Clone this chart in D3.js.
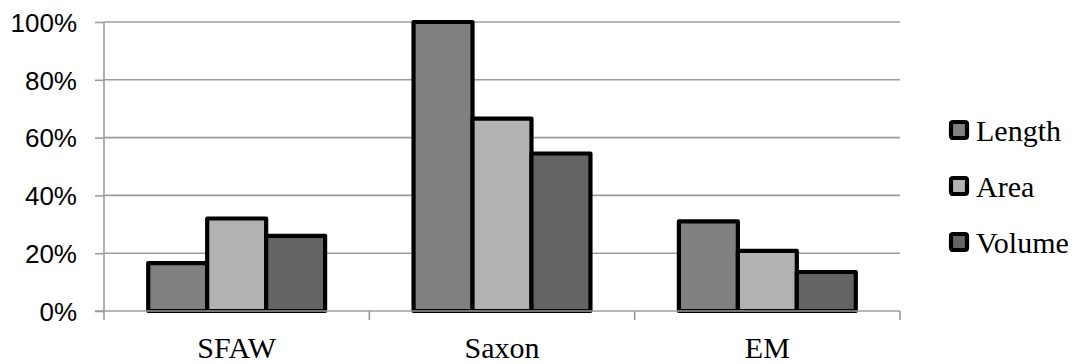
<!DOCTYPE html>
<html>
<head>
<meta charset="utf-8">
<script src="https://cdn.jsdelivr.net/npm/d3@7"></script>
<style>
html,body{margin:0;padding:0;background:#fff;}
svg{display:block;}
.serif{font-family:"Liberation Serif","Times New Roman",Times,serif;}
.sans{font-family:"Liberation Sans",Arial,Helvetica,sans-serif;}
</style>
</head>
<body>
<svg id="chart" width="1076" height="364"></svg>
<script>
const categories = ["SFAW", "Saxon", "EM"];
const seriesNames = ["Length", "Area", "Volume"];
const lengthValues = [0.166, 1.00, 0.31];
const areaValues = [0.32, 0.666, 0.208];
const volumeValues = [0.26, 0.545, 0.135];
const yTicks = [0, 0.2, 0.4, 0.6, 0.8, 1.0];
const seriesColors = ["#808080", "#b2b2b2", "#646464"];

(function () {
const seriesValues = [lengthValues, areaValues, volumeValues];
const svg = d3.select("#chart");
const pLeft = 104, pRight = 900, pTop = 22, pBottom = 311;

const x0 = d3.scaleBand().domain(categories).range([pLeft, pRight]).paddingInner(0).paddingOuter(0);
const bw = x0.bandwidth();
const gap = bw * 1.5 / 4.5 / 2;
const x1 = d3.scaleBand().domain(seriesNames).range([gap, bw - gap]).padding(0);
const y = d3.scaleLinear().domain([0, 1]).range([pBottom, pTop]);

// gridlines
svg.append("g").selectAll("line").data(yTicks.filter(d => d > 0)).join("line")
  .attr("x1", pLeft).attr("x2", pRight)
  .attr("y1", d => y(d)).attr("y2", d => y(d))
  .attr("stroke", "#9c9c9c").attr("stroke-width", 1.6);

// y axis
const yAxis = d3.axisLeft(y).tickValues(yTicks).tickFormat(d3.format(".0%")).tickSize(9).tickSizeOuter(0);
const gy = svg.append("g").attr("transform", `translate(${pLeft},0)`).call(yAxis)
  .attr("font-family", null).attr("font-size", null);
gy.select(".domain").remove();
gy.selectAll(".tick line").attr("stroke", "#9c9c9c").attr("stroke-width", 1.6);
gy.selectAll(".tick text").attr("x", -27).attr("dy", "0.36em").attr("class", "sans")
  .style("font-size", "26px").attr("fill", "#000");
svg.append("line").attr("x1", pLeft).attr("x2", pLeft).attr("y1", pTop).attr("y2", pBottom + 9)
  .attr("stroke", "#9c9c9c").attr("stroke-width", 1.6);

// bars
const groups = svg.append("g").selectAll("g").data(categories).join("g")
  .attr("transform", d => `translate(${x0(d)},0)`);
groups.selectAll("rect").data((c, i) => seriesNames.map((s, j) => ({s, j, v: seriesValues[j][i]}))).join("rect")
  .attr("x", d => x1(d.s)).attr("width", x1.bandwidth())
  .attr("y", d => y(d.v)).attr("height", d => y(0) - y(d.v))
  .attr("fill", d => seriesColors[d.j])
  .attr("stroke", "#000").attr("stroke-width", 4.2).attr("stroke-linejoin", "round");

// x axis
const xAxis = d3.axisBottom(x0).tickSize(0).tickSizeOuter(0);
const gx = svg.append("g").attr("transform", `translate(0,${pBottom})`).call(xAxis)
  .attr("font-family", null).attr("font-size", null);
gx.select(".domain").remove();
gx.selectAll(".tick text").attr("y", 47).attr("dy", 0).attr("class", "serif")
  .style("font-size", "30px").attr("fill", "#000");
svg.append("line").attr("x1", pLeft - 9).attr("x2", pRight).attr("y1", pBottom).attr("y2", pBottom)
  .attr("stroke", "#9c9c9c").attr("stroke-width", 1.6);
svg.append("g").selectAll("line").data(categories.slice(1).map(c => x0(c)).concat([pRight])).join("line")
  .attr("x1", d => d).attr("x2", d => d).attr("y1", pBottom).attr("y2", pBottom + 9)
  .attr("stroke", "#9c9c9c").attr("stroke-width", 1.6);

// legend
const legend = svg.append("g").selectAll("g").data(seriesNames).join("g")
  .attr("transform", (d, i) => `translate(951,${130 + i * 56})`);
legend.append("rect").attr("x", 0).attr("y", -8).attr("width", 16).attr("height", 16)
  .attr("rx", 2).attr("fill", (d, i) => seriesColors[i])
  .attr("stroke", "#000").attr("stroke-width", 4.2);
legend.append("text").attr("x", 25).attr("y", 11).text(d => d).attr("class", "serif")
  .style("font-size", "30px").attr("fill", "#000");
})();
</script>
</body>
</html>
